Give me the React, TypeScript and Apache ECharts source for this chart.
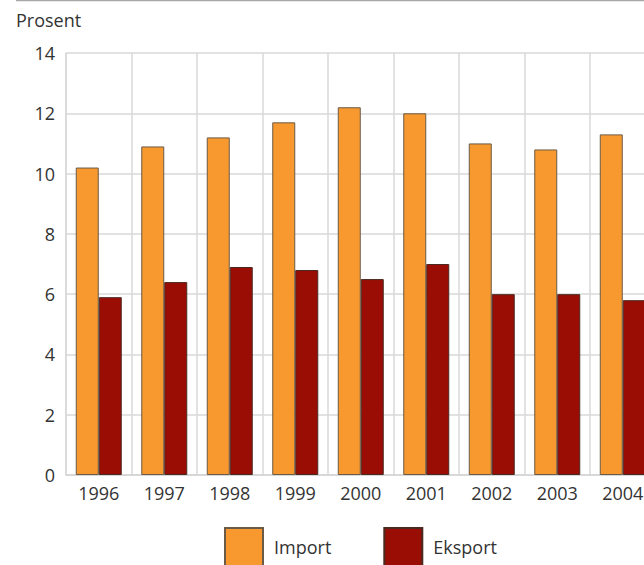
import React, { useEffect, useRef } from "react";
import * as echarts from "echarts";

const years = ["1996", "1997", "1998", "1999", "2000", "2001", "2002", "2003", "2004"];
const importValues = [10.2, 10.9, 11.2, 11.7, 12.2, 12.0, 11.0, 10.8, 11.3];
const eksportValues = [5.9, 6.4, 6.9, 6.8, 6.5, 7.0, 6.0, 6.0, 5.8];
const seriesNames = ["Import", "Eksport"];
const yAxisTitle = "Prosent";

const FONT = "'Open Sans', 'Noto Sans', sans-serif";

export default function App() {
  const ref = useRef<HTMLDivElement>(null);
  useEffect(() => {
    if (!ref.current) return;
    const chart = echarts.init(ref.current, undefined, { renderer: "svg" });
    chart.setOption({
      animation: false,
      textStyle: { fontFamily: FONT },
      grid: { left: 66, right: 44.5, top: 53, bottom: 90, containLabel: false },
      graphic: [
        {
          type: "line",
          shape: { x1: 16, y1: 0.5, x2: 700, y2: 0.5 },
          style: { stroke: "#a8a8a8", lineWidth: 1.5 },
        },
        {
          type: "text",
          x: 16,
          y: 20,
          style: {
            text: yAxisTitle,
            fontFamily: FONT,
            fontSize: 18,
            fill: "#333",
            textVerticalAlign: "middle",
          },
        },
      ],
      legend: {
        left: 224,
        top: 527,
        padding: 0,
        itemWidth: 38,
        itemHeight: 38,
        itemGap: 52,
        icon: "rect",
        textStyle: { fontFamily: FONT, fontSize: 18, color: "#333", padding: [0, 0, 0, 6] },
        data: seriesNames,
      },
      xAxis: {
        type: "category",
        data: years,
        boundaryGap: true,
        axisLine: { show: true, lineStyle: { color: "#d4d4d4", width: 1.5 } },
        axisTick: { show: false },
        splitLine: { show: true, lineStyle: { color: "#d9d9d9", width: 1.5 } },
        axisLabel: { fontFamily: FONT, fontSize: 18, color: "#333", margin: 9 },
      },
      yAxis: {
        type: "value",
        min: 0,
        max: 14,
        interval: 2,
        axisLine: { show: true, lineStyle: { color: "#d9d9d9", width: 1.5 } },
        axisTick: { show: false },
        splitLine: { show: true, lineStyle: { color: "#d9d9d9", width: 1.5 } },
        axisLabel: { fontFamily: FONT, fontSize: 18, color: "#333", margin: 11 },
      },
      series: [
        {
          name: seriesNames[0],
          type: "bar",
          data: importValues,
          barWidth: 23,
          barGap: "0%",
          itemStyle: { color: "#F7992F", borderColor: "#6b5a45", borderWidth: 1 },
        },
        {
          name: seriesNames[1],
          type: "bar",
          data: eksportValues,
          barWidth: 23,
          barGap: "0%",
          itemStyle: { color: "#990D05", borderColor: "#4a2a20", borderWidth: 1 },
        },
      ],
    });
    return () => chart.dispose();
  }, []);
  return (
    <div style={{ position: "fixed", left: 0, top: 0, width: 644, height: 565, overflow: "hidden", background: "#fff" }}>
      <div ref={ref} style={{ width: 700, height: 565 }} />
    </div>
  );
}
